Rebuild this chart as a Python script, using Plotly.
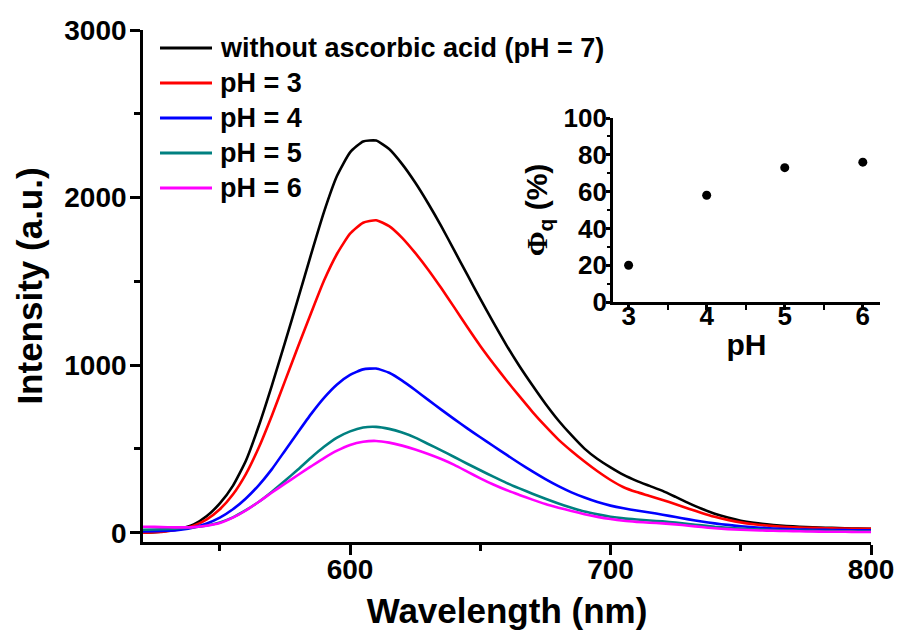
import plotly.graph_objects as go

wavelength = [520, 525, 530, 535, 540, 545, 550, 555, 560, 565, 570, 575, 580, 585, 590, 595,
              600, 605, 610, 615, 620, 625, 630, 635, 640, 645, 650, 655, 660, 665, 670, 675,
              680, 685, 690, 695, 700, 705, 710, 715, 720, 725, 730, 735, 740, 745, 750, 755,
              760, 765, 770, 775, 780, 785, 790, 795, 800]

no_acid = [0, 3, 12, 25, 50, 100, 175, 280, 430, 640, 880, 1135, 1395, 1660, 1915, 2130,
           2270, 2335, 2340, 2290, 2200, 2090, 1965, 1830, 1685, 1540, 1395, 1255, 1120, 995, 880, 770,
           670, 582, 502, 440, 390, 345, 310, 280, 250, 214, 177, 143, 114, 91, 72, 59,
           50, 43, 38, 34, 31, 29, 27, 25, 24]

ph3 = [0, 3, 10, 22, 42, 80, 140, 228, 350, 510, 700, 905, 1110, 1310, 1505, 1665,
       1785, 1850, 1865, 1830, 1760, 1670, 1570, 1460, 1345, 1228, 1115, 1010, 910, 815, 722, 636,
       556, 488, 425, 367, 315, 272, 243, 220, 196, 170, 144, 118, 95, 77, 62, 51,
       43, 37, 33, 30, 28, 26, 25, 24, 24]

ph4 = [8, 9, 12, 19, 32, 55, 90, 140, 205, 285, 380, 490, 600, 708, 805, 885,
       942, 975, 980, 955, 908, 852, 793, 735, 678, 623, 570, 518, 466, 415, 366, 320,
       278, 241, 210, 183, 162, 146, 133, 121, 108, 94, 80, 67, 56, 47, 39, 33,
       28, 24, 21, 19, 18, 17, 16, 15, 15]

ph5 = [18, 20, 23, 27, 33, 44, 62, 92, 135, 185, 245, 310, 378, 448, 513, 568,
       605, 628, 632, 620, 598, 568, 530, 492, 452, 412, 373, 335, 298, 265, 233, 203,
       175, 150, 127, 110, 96, 86, 79, 73, 68, 61, 52, 44, 36, 30, 25, 21,
       18, 15, 13, 12, 11, 10, 9, 8, 8]

ph6 = [36, 35, 33, 32, 34, 42, 58, 90, 133, 185, 240, 293, 345, 396, 446, 490,
       524, 543, 548, 538, 520, 497, 470, 440, 405, 365, 325, 288, 255, 226, 198, 172,
       150, 130, 111, 95, 82, 72, 65, 60, 56, 50, 42, 34, 27, 22, 18, 15,
       13, 11, 10, 8, 7, 6, 6, 5, 5]

series_names = ["without ascorbic acid (pH = 7)", "pH = 3", "pH = 4", "pH = 5", "pH = 6"]
series_values = [no_acid, ph3, ph4, ph5, ph6]
series_colors = ["#000000", "#FF0000", "#0000FF", "#008080", "#FF00FF"]

inset_ph = [3, 4, 5, 6]
inset_phi = [20, 58, 73, 76]

FONT = "Liberation Sans"
W, H = 898, 637
ML, MR, MT, MB = 143, 16, 30, 95
PW, PH = W - ML - MR, H - MT - MB


def px_x(sx):
    return (sx - ML) / PW


def px_y(sy):
    return 1 - (sy - MT) / PH


fig = go.Figure()
for name, vals, col in zip(series_names, series_values, series_colors):
    fig.add_trace(go.Scatter(x=wavelength, y=vals, mode="lines", name=name, showlegend=False,
                             line=dict(color=col, width=2.6, shape="spline", smoothing=0.5),
                             xaxis="x", yaxis="y"))

fig.add_trace(go.Scatter(x=inset_ph, y=inset_phi, mode="markers", showlegend=False,
                         marker=dict(color="black", size=9), xaxis="x2", yaxis="y2"))

# legend drawn as layout decorations
shapes = []
annotations = []
for i, (name, col) in enumerate(zip(series_names, series_colors)):
    row = 48 + 35 * i
    shapes.append(dict(type="line", xref="paper", yref="paper",
                       x0=px_x(160), x1=px_x(212), y0=px_y(row), y1=px_y(row),
                       line=dict(color=col, width=2.8)))
    annotations.append(dict(text=name, xref="paper", yref="paper", x=px_x(218), y=px_y(row),
                            xanchor="left", yanchor="middle", showarrow=False,
                            font=dict(family=FONT, size=27, color="black", weight="bold")))

axis_common = dict(showline=True, linecolor="black", linewidth=2.6, showgrid=False,
                   zeroline=False, ticks="outside", tickcolor="black", tickwidth=2.5,
                   mirror=False, automargin=False)

fig.update_layout(
    width=W, height=H,
    margin=dict(l=ML, r=MR, t=MT, b=MB, autoexpand=False),
    paper_bgcolor="white", plot_bgcolor="white",
    font=dict(family=FONT, color="black", weight="bold"),
    showlegend=False,
    shapes=shapes, annotations=annotations,
    xaxis=dict(axis_common, domain=[0, px_x(871)], range=[520.5, 800],
               tickmode="linear", tick0=600, dtick=100, ticklen=10, ticklabelstandoff=-9,
               tickfont=dict(family=FONT, size=28, weight="bold"),
               minor=dict(dtick=50, tick0=550, ticklen=6, tickwidth=2.5, tickcolor="black", ticks="outside"),
               title=dict(text="Wavelength (nm)", font=dict(family=FONT, size=35, weight="bold"), standoff=15),
               anchor="y"),
    yaxis=dict(axis_common, domain=[0, 1], range=[-55, 3000],
               tickmode="linear", tick0=0, dtick=1000, ticklen=10, ticklabelstandoff=-2,
               tickfont=dict(family=FONT, size=28, weight="bold"),
               minor=dict(dtick=500, tick0=0, ticklen=6, tickwidth=2.5, tickcolor="black", ticks="outside"),
               title=dict(text="Intensity (a.u.)", font=dict(family=FONT, size=35, weight="bold"), standoff=12),
               anchor="x"),
    xaxis2=dict(axis_common, domain=[px_x(613), px_x(880)], range=[2.8, 6.22],
                tickmode="linear", tick0=3, dtick=1, ticklen=5, ticklabelstandoff=-16,
                tickfont=dict(family=FONT, size=26, weight="bold"),
                minor=dict(dtick=0.5, tick0=3, ticklen=5, tickwidth=2, tickcolor="black", ticks="outside"),
                title=dict(text="pH", font=dict(family=FONT, size=30, weight="bold"), standoff=4),
                anchor="y2"),
    yaxis2=dict(axis_common, domain=[px_y(302), px_y(118)], range=[0, 100],
                tickmode="linear", tick0=0, dtick=20, ticklen=4, ticklabelstandoff=-6,
                tickfont=dict(family=FONT, size=26, weight="bold"),
                minor=dict(dtick=10, tick0=0, ticklen=3, tickwidth=2, tickcolor="black", ticks="outside"),
                title=dict(text="<span style='font-family:Liberation Serif'>Φ</span><sub>q</sub> (%)",
                           font=dict(family=FONT, size=30, weight="bold"), standoff=8),
                anchor="x2"),
)

fig.write_html("out.html", config={"displayModeBar": False},
               post_script="document.body.style.margin='0';document.body.style.overflow='hidden';")
